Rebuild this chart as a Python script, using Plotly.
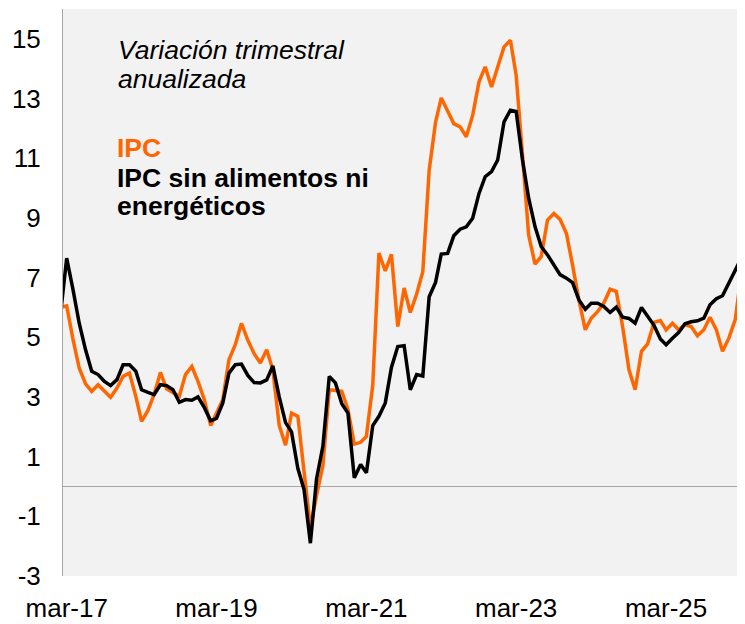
import plotly.graph_objects as go
import pandas as pd

# Monthly dates (first point feb-17 is clipped by the axis range)
months = pd.date_range("2017-02-01", "2026-03-01", freq="MS")

ipc = [6.0, 6.05, 4.92, 3.97, 3.44, 3.19, 3.41, 3.19, 2.99, 3.3,
       3.69, 3.8, 3.02, 2.18, 2.55, 3.08, 3.82, 3.27, 3.13, 3.02,
       3.75, 4.02, 3.52, 2.91, 2.04, 2.46, 2.91, 4.25, 4.75, 5.47,
       4.9, 4.45, 4.14, 4.58, 3.91, 2.05, 1.38, 2.46, 2.35, 0.5,
       -1.38, -0.3, 0.7, 3.24, 3.22, 3.19, 2.58, 1.42, 1.48, 1.68,
       3.4, 7.82, 7.22, 7.78, 5.36, 6.65, 5.83, 6.45, 7.2, 10.6,
       12.2, 13.02, 12.58, 12.16, 12.05, 11.72, 12.44, 13.56, 14.06, 13.39,
       14.06, 14.73, 14.95, 13.78, 11.1, 8.43, 7.45, 7.7, 8.93, 9.15,
       8.95, 8.48, 7.42, 6.25, 5.25, 5.64, 5.86, 6.14, 6.61, 6.54,
       5.36, 3.91, 3.24, 4.53, 4.78, 5.5, 5.56, 5.25, 5.47, 5.25,
       5.42, 5.36, 5.05, 5.25, 5.67, 5.25, 4.53, 4.97, 5.59, 7.05]

ipc_sae = [5.9, 7.65, 6.59, 5.47, 4.58, 3.86, 3.75, 3.52, 3.38, 3.58,
           4.08, 4.08, 3.86, 3.24, 3.15, 3.08, 3.41, 3.38, 3.24, 2.82,
           2.91, 2.89, 3.0, 2.64, 2.2, 2.28, 2.8, 3.8, 4.08, 4.1,
           3.72, 3.48, 3.47, 3.57, 4.04, 3.0, 2.14, 1.83, 0.6, -0.1,
           -1.9, 0.25, 1.35, 3.69, 3.47, 2.77, 2.46, 0.29, 0.74, 0.46,
           2.04, 2.35, 2.8, 3.99, 4.69, 4.72, 3.24, 3.75, 3.7, 6.36,
           6.84, 7.79, 7.81, 8.4, 8.62, 8.7, 8.99, 9.82, 10.38, 10.55,
           10.94, 12.22, 12.61, 12.57, 10.94, 9.66, 8.71, 8.04, 7.76, 7.42,
           7.1, 6.98, 6.83, 6.25, 5.94, 6.14, 6.14, 6.03, 5.83, 6.01,
           5.67, 5.63, 5.47, 6.0, 5.7, 5.4, 4.94, 4.75, 4.97, 5.16,
           5.45, 5.52, 5.55, 5.64, 6.09, 6.29, 6.39, 6.81, 7.23, 7.63]

tick_dates = ["2017-03-01", "2019-03-01", "2021-03-01", "2023-03-01", "2025-03-01"]
tick_labels = ["mar-17", "mar-19", "mar-21", "mar-23", "mar-25"]
y_ticks = [-3, -1, 1, 3, 5, 7, 9, 11, 13, 15]
y_tick_labels = ["-3", "-1", "1", "3", "5", "7", "9", "11", "13", "15"]

ORANGE = "#FF6600"
FONT = "Liberation Sans, Arial, sans-serif"

fig = go.Figure()
fig.add_trace(go.Scatter(x=months, y=ipc, mode="lines",
                         line=dict(color=ORANGE, width=3.5), name="IPC"))
fig.add_trace(go.Scatter(x=months, y=ipc_sae, mode="lines",
                         line=dict(color="#000000", width=3.5),
                         name="IPC sin alimentos ni energéticos"))

fig.update_layout(
    width=737, height=616,
    margin=dict(l=55, r=3, t=1, b=48),
    paper_bgcolor="#FFFFFF",
    plot_bgcolor="#F2F2F2",
    showlegend=False,
    font=dict(family=FONT, size=26, color="#000000"),
)

fig.update_xaxes(
    type="date",
    range=["2017-02-11", "2026-03-06"],
    tickvals=tick_dates, ticktext=tick_labels,
    showgrid=False, zeroline=False, showline=False,
    ticks="", ticklabelstandoff=14, automargin=False,
    tickfont=dict(size=26, family=FONT, color="#000000"),
)
fig.update_yaxes(
    range=[-3, 16],
    tickvals=y_ticks, ticktext=y_tick_labels,
    showgrid=False,
    zeroline=True, zerolinecolor="#A6A6A6", zerolinewidth=1,
    showline=True, linecolor="#A6A6A6", linewidth=1,
    ticks="", ticklabelstandoff=16, automargin=False,
    tickfont=dict(size=26, family=FONT, color="#000000"),
)

# screen-pixel helpers (plot area spans x 63..742, y 9..576 on screen)
def px_x(px):
    return (px - 63) / 679

def px_y(py):
    return (576 - py) / 567

annots = [
    ("<i>Variación trimestral</i>", 116, 50, "#000000"),
    ("<i>anualizada</i>", 116, 79, "#000000"),
    ("<b>IPC</b>", 115, 148, ORANGE),
    ("<b>IPC sin alimentos ni</b>", 115, 178, "#000000"),
    ("<b>energéticos</b>", 115, 206, "#000000"),
]
for text, ax, ay, col in annots:
    fig.add_annotation(text=text, x=px_x(ax), y=px_y(ay), xref="paper", yref="paper",
                       xanchor="left", yanchor="middle", showarrow=False,
                       font=dict(size=26.5, family=FONT, color=col))

fig.write_html("out.html")
